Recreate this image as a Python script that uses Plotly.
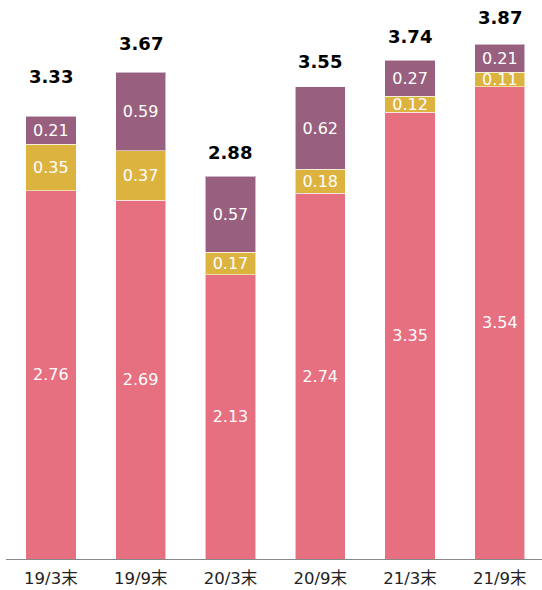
import plotly.graph_objects as go

# Period-end labels and the three stacked components
periods = ["19/3末", "19/9末", "20/3末", "20/9末", "21/3末", "21/9末"]
base_vals = [2.76, 2.69, 2.13, 2.74, 3.35, 3.54]
mid_vals = [0.35, 0.37, 0.17, 0.18, 0.12, 0.11]
top_vals = [0.21, 0.59, 0.57, 0.62, 0.27, 0.21]
totals = [3.33, 3.67, 2.88, 3.55, 3.74, 3.87]

colors = ["#E66F80", "#DDB340", "#985F7E"]
font_family = "DejaVu Sans, Noto Sans CJK JP, sans-serif"

fig = go.Figure()
for vals, col in zip([base_vals, mid_vals, top_vals], colors):
    fig.add_trace(go.Bar(
        x=periods, y=vals,
        marker=dict(color=col, line=dict(color="rgba(255,255,255,0.55)", width=1)),
        text=[f"{v:.2f}" for v in vals],
        textposition="inside", insidetextanchor="middle",
        textfont=dict(color="white", size=16, family=font_family),
        width=0.56, hoverinfo="skip",
    ))

# Total labels above each stack
label_shift = [38, 26, 22, 24, 24, 25]
for p, t, s in zip(periods, totals, label_shift):
    fig.add_annotation(x=p, y=t, text=f"<b>{t:.2f}</b>", showarrow=False,
                       yshift=s, font=dict(size=18, color="black", family=font_family))

fig.update_layout(
    barmode="stack", showlegend=False,
    width=542, height=590,
    margin=dict(l=6, r=0, t=0, b=31),
    plot_bgcolor="white", paper_bgcolor="white",
    uniformtext=dict(minsize=16, mode="show"),
    font=dict(family=font_family),
)
fig.update_xaxes(range=[-0.5, 5.47], showline=True, linecolor="#888888", linewidth=1,
                 ticks="", ticklabelstandoff=4,
                 tickfont=dict(size=16.5, color="#222222", family=font_family))
fig.update_yaxes(range=[0, 4.19], visible=False)

fig.write_html("out.html")
